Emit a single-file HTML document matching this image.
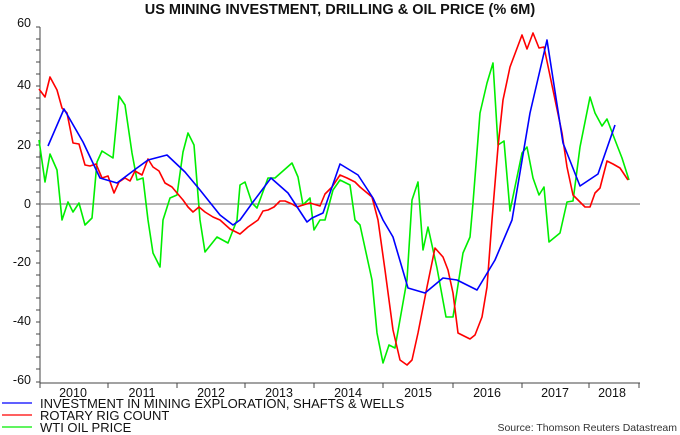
<!DOCTYPE html>
<html><head><style>
body{margin:0;background:#fff;}
svg{display:block;font-family:"Liberation Sans",Arial,sans-serif;}
</style></head><body>
<svg width="680" height="435" viewBox="0 0 680 435" xmlns="http://www.w3.org/2000/svg">
<rect width="680" height="435" fill="#fff"/>
<text x="340" y="14" text-anchor="middle" font-size="14.5" font-weight="bold" fill="#111">US MINING INVESTMENT, DRILLING &amp; OIL PRICE (% 6M)</text>
<line x1="40" y1="27" x2="40" y2="383" stroke="#444" stroke-width="1"/>
<line x1="40" y1="383" x2="640" y2="383" stroke="#444" stroke-width="1"/>
<line x1="40" y1="204" x2="640" y2="204" stroke="#888" stroke-width="1.3"/>
<g stroke="#444" stroke-width="1">
<path d="M36 27H40M36 39H40M36 50H40M36 62H40M36 74H40M36 86H40M36 98H40M36 109H40M36 121H40M36 133H40M36 145H40M36 157H40M36 168H40M36 180H40M36 192H40M36 204H40M36 216H40M36 227H40M36 239H40M36 251H40M36 263H40M36 275H40M36 286H40M36 298H40M36 310H40M36 322H40M36 334H40M36 345H40M36 357H40M36 369H40M36 382H40"/>
<path d="M40 383V388M108 383V388M177 383V388M245 383V388M314 383V388M383 383V388M453 383V388M522 383V388M589 383V388M639 383V388"/>
</g>
<g font-size="12.5" fill="#111" text-anchor="end">
<text x="31" y="27">60</text><text x="31" y="89">40</text><text x="31" y="149">20</text><text x="31" y="208">0</text>
<text x="31" y="266">-20</text><text x="31" y="325">-40</text><text x="31" y="384">-60</text>
</g>
<g font-size="12.5" fill="#111" text-anchor="middle">
<text x="73" y="397">2010</text><text x="142" y="397">2011</text><text x="211" y="397">2012</text><text x="279" y="397">2013</text>
<text x="348" y="397">2014</text><text x="418" y="397">2015</text><text x="487" y="397">2016</text><text x="555" y="397">2017</text><text x="612" y="397">2018</text>
</g>
<g fill="none" stroke-width="1.6" stroke-linejoin="round">
<polyline stroke="#00ee00" points="39,140 45,182 50,154 57,170 62,220 68,202 73,212 79,203 85,225 92,218 97,162 102,151 113,158 119,96 125,105 132,153 137,180 143,178 148,220 153,253 160,267 163,220 170,198 177,195 183,152 188,133 194,145 200,220 205,252 217,237 228,243 237,220 240,185 245,182 252,203 257,208 268,178 275,178 292,163 298,177 303,205 310,198 314,230 320,220 325,220 333,190 340,180 350,185 355,220 360,225 372,280 377,333 383,363 389,345 395,348 407,280 412,200 418,182 423,250 428,227 437,268 446,317 453,317 463,253 470,237 473,203 480,113 487,83 493,63 498,145 504,141 510,211 522,153 527,147 533,178 539,195 544,187 549,242 560,233 567,202 573,201 580,147 590,97 595,113 602,126 607,119 615,140 622,158 629,180"/>
<polyline stroke="#ff0000" points="39,89 45,97 50,77 57,90 62,108 67,113 73,143 79,144 85,165 90,166 96,164 102,178 108,176 114,193 119,182 125,178 130,181 135,171 142,175 148,159 153,167 159,171 165,183 172,187 177,193 183,200 188,207 193,212 199,207 205,212 213,217 220,220 230,229 240,234 248,227 258,220 263,211 268,210 274,207 280,201 285,201 292,204 297,207 303,205 310,203 320,206 325,194 332,187 340,175 347,178 355,182 360,187 372,197 378,220 385,270 393,330 400,360 407,365 412,360 418,333 427,287 435,248 443,257 448,270 453,293 458,333 470,339 475,335 482,317 487,287 492,220 498,147 503,100 510,67 522,35 527,49 533,33 539,48 544,47 553,90 562,133 567,167 573,195 580,202 585,207 590,207 595,193 600,188 607,161 613,164 620,168 628,180"/>
<polyline stroke="#0000ff" points="48,146 64,109 83,142 100,178 117,183 137,168 148,160 167,155 185,172 200,190 220,215 233,225 240,220 253,202 271,178 288,193 307,222 312,218 323,213 340,164 358,175 373,198 383,220 393,237 408,288 425,293 443,278 457,280 477,290 495,260 512,220 530,113 547,40 563,143 580,186 598,174 615,125"/>
</g>
<line x1="2" y1="403" x2="32" y2="403" stroke="#0000ff" stroke-width="1.3"/>
<line x1="2" y1="415" x2="32" y2="415" stroke="#ff0000" stroke-width="1.3"/>
<line x1="2" y1="427" x2="32" y2="427" stroke="#00ee00" stroke-width="1.3"/>
<g font-size="13" fill="#111">
<text x="40" y="408">INVESTMENT IN MINING EXPLORATION, SHAFTS &amp; WELLS</text>
<text x="40" y="420">ROTARY RIG COUNT</text>
<text x="40" y="432">WTI OIL PRICE</text>
</g>
<text x="677" y="431" text-anchor="end" font-size="10.5" fill="#333">Source: Thomson Reuters Datastream</text>
</svg>
</body></html>
